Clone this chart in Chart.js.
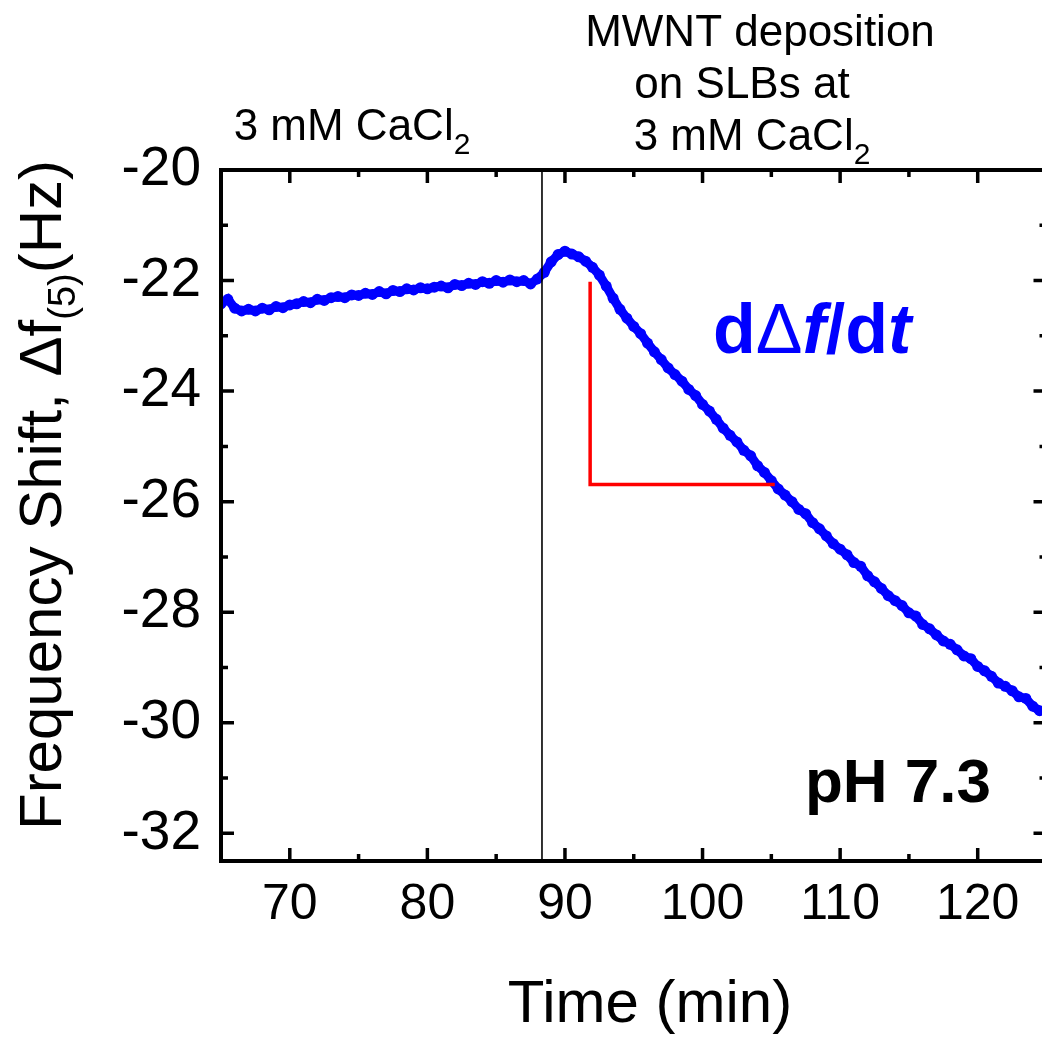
<!DOCTYPE html>
<html>
<head>
<meta charset="utf-8">
<title>Frequency shift vs time</title>
<script src="https://cdn.jsdelivr.net/npm/chart.js@4.4.1/dist/chart.umd.min.js"></script>
<style>
  html, body { margin: 0; padding: 0; background: #fff; overflow: hidden; }
  #wrap { position: relative; width: 1052px; height: 1041px; }
</style>
</head>
<body>
<div id="wrap"><canvas id="qcmChart"></canvas></div>
<script>
// Data (time in min, frequency shift in Hz)
const timeMin = [
  65.0, 65.5, 66.0, 66.5, 67.0, 67.5, 68.0, 68.5, 69.0, 69.5,
  70.0, 70.5, 71.0, 71.5, 72.0, 72.5, 73.0, 73.5, 74.0, 74.5,
  75.0, 75.5, 76.0, 76.5, 77.0, 77.5, 78.0, 78.5, 79.0, 79.5,
  80.0, 80.5, 81.0, 81.5, 82.0, 82.5, 83.0, 83.5, 84.0, 84.5,
  85.0, 85.5, 86.0, 86.5, 87.0, 87.5, 88.0, 88.5, 89.0, 89.5,
  90.0, 90.5, 91.0, 91.5, 92.0, 92.5, 93.0, 93.5, 94.0, 94.5,
  95.0, 95.5, 96.0, 96.5, 97.0, 97.5, 98.0, 98.5, 99.0, 99.5,
  100.0, 100.5, 101.0, 101.5, 102.0, 102.5, 103.0, 103.5, 104.0, 104.5,
  105.0, 105.5, 106.0, 106.5, 107.0, 107.5, 108.0, 108.5, 109.0, 109.5,
  110.0, 110.5, 111.0, 111.5, 112.0, 112.5, 113.0, 113.5, 114.0, 114.5,
  115.0, 115.5, 116.0, 116.5, 117.0, 117.5, 118.0, 118.5, 119.0, 119.5,
  120.0, 120.5, 121.0, 121.5, 122.0, 122.5, 123.0, 123.5, 124.0, 124.5
];
const freqShift = [
  -22.42, -22.34, -22.50, -22.55, -22.52, -22.55, -22.50, -22.53, -22.47, -22.49,
  -22.44, -22.42, -22.38, -22.40, -22.34, -22.36, -22.31, -22.29, -22.31, -22.26,
  -22.27, -22.23, -22.25, -22.20, -22.24, -22.18, -22.20, -22.15, -22.17, -22.13,
  -22.15, -22.12, -22.10, -22.13, -22.07, -22.09, -22.05, -22.07, -22.02, -22.05,
  -22.00, -22.03, -21.99, -22.02, -22.00, -22.06, -21.97, -21.85, -21.66, -21.53,
  -21.47, -21.52, -21.57, -21.65, -21.76, -21.90, -22.10, -22.32, -22.52, -22.68,
  -22.83, -22.96, -23.13, -23.29, -23.43, -23.58, -23.70, -23.82, -23.97, -24.08,
  -24.24, -24.36, -24.51, -24.67, -24.80, -24.92, -25.07, -25.17, -25.35, -25.47,
  -25.62, -25.77, -25.88, -26.00, -26.14, -26.22, -26.38, -26.49, -26.62, -26.76,
  -26.86, -26.96, -27.10, -27.17, -27.34, -27.45, -27.57, -27.70, -27.79, -27.88,
  -28.01, -28.07, -28.22, -28.30, -28.41, -28.52, -28.58, -28.68, -28.79, -28.84,
  -28.98, -29.06, -29.16, -29.28, -29.34, -29.42, -29.53, -29.56, -29.70, -29.78
];

// Axis ticks
const xTicks = [70, 80, 90, 100, 110, 120];
const xMinorTicks = [75, 85, 95, 105, 115];
const yTicks = [-20, -22, -24, -26, -28, -30, -32];
const yMinorTicks = [-21, -23, -25, -27, -29, -31];

// Annotations
const injectionTime = 88.33;          // start of MWNT deposition
const slopeX = [91.83, 91.83, 105.25]; // red slope triangle
const slopeY = [-22.02, -25.69, -25.69];

const FONT = '"Liberation Sans", Arial, Helvetica, sans-serif';

function pairs(xs, ys) {
  return xs.map((x, i) => ({ x: x, y: ys[i] }));
}

// Frame, inward ticks and text labels
const framePlugin = {
  id: 'frame',
  afterDraw(chart) {
    const ctx = chart.ctx;
    const a = chart.chartArea;
    const xs = chart.scales.x, ys = chart.scales.y;

    ctx.save();
    ctx.strokeStyle = '#000';
    ctx.lineCap = 'butt';

    // ticks (major 13px, minor 7px), on all four sides
    ctx.lineWidth = 3.5;
    const tickX = (vals, len) => {
      vals.forEach(v => {
        const px = xs.getPixelForValue(v);
        ctx.beginPath();
        ctx.moveTo(px, a.bottom); ctx.lineTo(px, a.bottom - len);
        ctx.moveTo(px, a.top); ctx.lineTo(px, a.top + len);
        ctx.stroke();
      });
    };
    const tickY = (vals, len) => {
      vals.forEach(v => {
        const py = ys.getPixelForValue(v);
        ctx.beginPath();
        ctx.moveTo(a.left, py); ctx.lineTo(a.left + len, py);
        ctx.moveTo(a.right, py); ctx.lineTo(a.right - len, py);
        ctx.stroke();
      });
    };
    tickX(xTicks, 13);
    tickX(xMinorTicks, 7);
    tickY(yTicks, 13);
    tickY(yMinorTicks, 7);

    // axis frame
    ctx.lineWidth = 4;
    ctx.strokeRect(a.left, a.top, a.right - a.left, a.bottom - a.top);

    // text helper: draw runs of [text, font, dy] left to right
    const drawRuns = (runs, x, y, align) => {
      let total = 0;
      runs.forEach(r => { ctx.font = r.font; total += ctx.measureText(r.text).width; });
      let cx = align === 'center' ? x - total / 2 : x;
      runs.forEach(r => {
        ctx.font = r.font;
        ctx.fillText(r.text, cx, y + (r.dy || 0));
        cx += ctx.measureText(r.text).width;
      });
    };

    ctx.fillStyle = '#000';
    ctx.textBaseline = 'alphabetic';
    ctx.textAlign = 'left';

    // top labels
    const big = '44px ' + FONT, sub = '30px ' + FONT;
    drawRuns([{ text: '3 mM CaCl', font: big }, { text: '2', font: sub, dy: 14 }], 352, 140, 'center');
    drawRuns([{ text: 'MWNT deposition', font: big }], 760, 46, 'center');
    drawRuns([{ text: 'on SLBs at', font: big }], 742, 98, 'center');
    drawRuns([{ text: '3 mM CaCl', font: big }, { text: '2', font: sub, dy: 14 }], 752, 150, 'center');

    // pH label
    drawRuns([{ text: 'pH 7.3', font: 'bold 62px ' + FONT }], 805, 802, 'left');

    // slope label
    ctx.fillStyle = '#0000ff';
    drawRuns([
      { text: 'd', font: 'bold 70px ' + FONT },
      { text: 'Δ', font: '70px ' + FONT },
      { text: 'f', font: 'italic bold 70px ' + FONT },
      { text: '/', font: 'bold 70px ' + FONT },
      { text: 'd', font: 'bold 70px ' + FONT },
      { text: 't', font: 'italic bold 70px ' + FONT }
    ], 713, 353, 'left');

    // x axis title
    ctx.fillStyle = '#000';
    drawRuns([{ text: 'Time (min)', font: '60px ' + FONT }], 650, 1022, 'center');

    // y axis title, rotated
    ctx.save();
    ctx.translate(61, 495);
    ctx.rotate(-Math.PI / 2);
    drawRuns([
      { text: 'Frequency Shift, Δf', font: '60px ' + FONT },
      { text: '(5)', font: '38px ' + FONT, dy: 14 },
      { text: '(Hz)', font: '60px ' + FONT }
    ], 0, 0, 'center');
    ctx.restore();

    ctx.restore();
  }
};

const ctx = document.getElementById('qcmChart').getContext('2d');
new Chart(ctx, {
  type: 'line',
  data: {
    datasets: [
      {
        label: 'Slope',
        data: pairs(slopeX, slopeY),
        borderColor: '#ff0000',
        borderWidth: 3.5,
        pointRadius: 0,
        tension: 0,
        order: 1
      },
      {
        label: 'Injection',
        data: pairs([injectionTime, injectionTime], [-20, -32.5]),
        borderColor: '#000',
        borderWidth: 1.6,
        pointRadius: 0,
        order: 2
      },
      {
        label: 'Δf (5)',
        data: pairs(timeMin, freqShift),
        borderColor: '#0000ff',
        backgroundColor: '#0000ff',
        borderWidth: 9,
        pointRadius: 5.5,
        pointBorderWidth: 0,
        tension: 0,
        order: 3
      }
    ]
  },
  options: {
    responsive: true,
    maintainAspectRatio: false,
    animation: false,
    events: [],
    layout: { padding: { top: 170, left: 0, right: 4, bottom: 0 } },
    plugins: {
      legend: { display: false },
      tooltip: { enabled: false }
    },
    scales: {
      x: {
        type: 'linear',
        min: 65,
        max: 125,
        grid: { display: false, drawTicks: false },
        border: { display: false },
        afterBuildTicks: scale => { scale.ticks = xTicks.map(v => ({ value: v })); },
        afterFit: scale => { scale.height = 180; },
        ticks: {
          color: '#000',
          padding: 14,
          maxRotation: 0,
          font: { family: FONT, size: 50 }
        }
      },
      y: {
        type: 'linear',
        min: -32.5,
        max: -20,
        grid: { display: false, drawTicks: false },
        border: { display: false },
        afterBuildTicks: scale => { scale.ticks = yTicks.map(v => ({ value: v })); },
        afterFit: scale => { scale.width = 221; },
        ticks: {
          color: '#000',
          padding: 20,
          font: { family: FONT, size: 55 }
        }
      }
    }
  },
  plugins: [framePlugin]
});
</script>
</body>
</html>
